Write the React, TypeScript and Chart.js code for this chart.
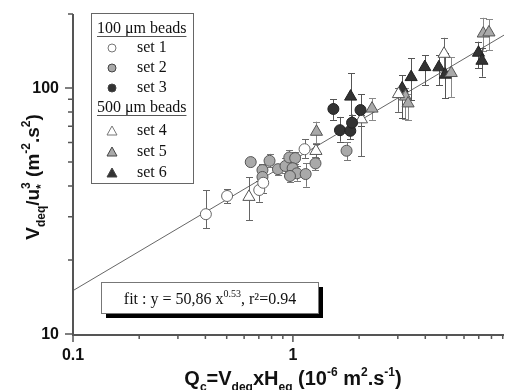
import React, { useEffect, useRef } from 'react';
import { Chart, registerables } from 'chart.js';
Chart.register(...registerables);

// ---- data ----
const set1X = [0.402, 0.502, 0.703, 0.733, 1.13];
const set1Y = [30.7, 36.4, 38.5, 41.2, 56.4];
const set1Lo = [26.9, 34.0, 34.5, 37.5, 52];
const set1Hi = [38.5, 38.7, 42, 44, 62];

const set2X = [0.643, 0.783, 0.727, 0.727, 0.855, 0.925, 0.963, 1.024, 0.997, 1.042, 0.97, 1.143, 1.267, 1.754];
const set2Y = [50.0, 50.6, 46.4, 43.5, 46.8, 48.2, 52.2, 51.9, 47.2, 45.0, 43.9, 44.7, 49.4, 55.6];
const set2Lo = [48.5, 47.6, 44, 41, 44.5, 45, 49, 49, 44, 42, 41.5, 39.7, 46.4, 51.0];
const set2Hi = [51.5, 54, 49, 46, 49, 52, 56, 55, 50, 48, 46, 49.5, 52.5, 60.1];

const set3X = [1.528, 1.637, 1.824, 1.858, 2.03];
const set3Y = [82.2, 67.4, 67.0, 72.3, 81.4];
const set3Lo = [74.2, 60.5, 62, 66, 70];
const set3Hi = [90.2, 76.3, 72, 78, 94.2];

const set4X = [0.631, 1.273, 2.05, 3.02, 4.87];
const set4Y = [36.1, 55.5, 74.6, 94.5, 137.8];
const set4Lo = [29.0, 52, 52.7, 80, 115];
const set4Hi = [43.4, 59, 78, 100, 160];

const set5X = [1.28, 2.29, 3.25, 3.34, 5.25, 7.34, 7.79];
const set5Y = [66.4, 82.5, 92.3, 86.6, 115.1, 166.6, 168.3];
const set5Lo = [59.6, 74.2, 74.8, 74, 92, 142, 142.6];
const set5Hi = [73, 91, 100, 95, 133.6, 193, 190];

const set6X = [1.83, 3.14, 3.45, 3.98, 4.61, 4.93, 6.98, 7.24];
const set6Y = [92.3, 99.7, 110.8, 121.7, 121.4, 113.3, 139.2, 129.1];
const set6Lo = [74.2, 75.5, 89.4, 102.8, 102.8, 91, 120.2, 111.2];
const set6Hi = [114.7, 112.9, 132.4, 136.2, 136.2, 138.7, 154.3, 145.5];

// fit: y = a x^b
const fitA = 50.86;
const fitB = 0.53;
const fitX = [0.1, 9.12];

const xMin = 0.1, xMax = 9.12, yMin = 10, yMax = 200;
const xMajorTicks = [0.1, 1];
const xMinorTicks = [0.2, 0.3, 0.4, 0.5, 0.6, 0.7, 0.8, 0.9, 2, 3, 4, 5, 6, 7, 8, 9];
const xTickLabels = ['0.1', '1'];
const yMajorTicks = [10, 100];
const yMinorTicks = [20, 30, 40, 50, 60, 70, 80, 90, 200];
const yTickLabels = ['10', '100'];

const legendHeaders = ['100 \u03bcm beads', '500 \u03bcm beads'];
const legendLabels = ['set 1', 'set 2', 'set 3', 'set 4', 'set 5', 'set 6'];

const WHITE = '#ffffff', GRAY = '#a9a9a9', DARK = '#333333';
const SANS = '"Liberation Sans", Arial, sans-serif';
const SERIF = '"Liberation Serif", "Times New Roman", serif';

type Seg = { t: string; k?: 'n' | 'sub' | 'sup' | 'stack'; t2?: string };

function richWidth(ctx: CanvasRenderingContext2D, segs: Seg[], size: number, fam: string, weight: string) {
  let w = 0;
  for (const s of segs) {
    if (!s.k || s.k === 'n') { ctx.font = `${weight} ${size}px ${fam}`; w += ctx.measureText(s.t).width; }
    else {
      ctx.font = `${weight} ${Math.round(size * 0.62)}px ${fam}`;
      const a = ctx.measureText(s.t).width;
      const b = s.t2 ? ctx.measureText(s.t2).width : 0;
      w += Math.max(a, b);
    }
  }
  return w;
}
function drawRich(ctx: CanvasRenderingContext2D, segs: Seg[], x: number, y: number, size: number, fam: string, weight: string) {
  let cx = x;
  ctx.textBaseline = 'alphabetic';
  ctx.textAlign = 'left';
  for (const s of segs) {
    if (!s.k || s.k === 'n') {
      ctx.font = `${weight} ${size}px ${fam}`;
      ctx.fillText(s.t, cx, y);
      cx += ctx.measureText(s.t).width;
    } else {
      ctx.font = `${weight} ${Math.round(size * 0.62)}px ${fam}`;
      if (s.k === 'sub') { ctx.fillText(s.t, cx, y + size * 0.3); cx += ctx.measureText(s.t).width; }
      else if (s.k === 'sup') { ctx.fillText(s.t, cx, y - size * 0.45); cx += ctx.measureText(s.t).width; }
      else {
        ctx.fillText(s.t, cx, y + size * 0.3);
        ctx.fillText(s.t2 || '', cx, y - size * 0.45);
        cx += Math.max(ctx.measureText(s.t).width, ctx.measureText(s.t2 || '').width);
      }
    }
  }
}

const errSets = [
  { xs: set1X, lo: set1Lo, hi: set1Hi, color: '#666' },
  { xs: set2X, lo: set2Lo, hi: set2Hi, color: '#777' },
  { xs: set3X, lo: set3Lo, hi: set3Hi, color: '#555' },
  { xs: set4X, lo: set4Lo, hi: set4Hi, color: '#666' },
  { xs: set5X, lo: set5Lo, hi: set5Hi, color: '#888' },
  { xs: set6X, lo: set6Lo, hi: set6Hi, color: '#555' },
];

const decor = {
  id: 'decor',
  beforeDatasetsDraw(chart: any) {
    const ctx: CanvasRenderingContext2D = chart.ctx;
    const xs = chart.scales.x, ys = chart.scales.y;
    ctx.save();
    ctx.lineWidth = 1;
    for (const e of errSets) {
      ctx.strokeStyle = e.color;
      e.xs.forEach((xv, i) => {
        const px = Math.round(xs.getPixelForValue(xv)) + 0.5;
        const pl = ys.getPixelForValue(e.lo[i]);
        const ph = ys.getPixelForValue(e.hi[i]);
        ctx.beginPath();
        ctx.moveTo(px, pl); ctx.lineTo(px, ph);
        ctx.moveTo(px - 3.5, Math.round(pl) + 0.5); ctx.lineTo(px + 3.5, Math.round(pl) + 0.5);
        ctx.moveTo(px - 3.5, Math.round(ph) + 0.5); ctx.lineTo(px + 3.5, Math.round(ph) + 0.5);
        ctx.stroke();
      });
    }
    ctx.restore();
  },
  afterDraw(chart: any) {
    const ctx: CanvasRenderingContext2D = chart.ctx;
    const xs = chart.scales.x, ys = chart.scales.y;
    const a = chart.chartArea;
    ctx.save();
    // axes
    ctx.strokeStyle = '#555';
    ctx.lineWidth = 2;
    ctx.beginPath();
    ctx.moveTo(a.left, a.top); ctx.lineTo(a.left, a.bottom + 1); ctx.lineTo(a.right, a.bottom + 1);
    ctx.stroke();
    ctx.lineWidth = 1.5;
    ctx.beginPath();
    for (const v of xMajorTicks) { const p = xs.getPixelForValue(v); ctx.moveTo(p, a.bottom); ctx.lineTo(p, a.bottom + 8); }
    for (const v of xMinorTicks) { const p = xs.getPixelForValue(v); ctx.moveTo(p, a.bottom); ctx.lineTo(p, a.bottom + 5); }
    for (const v of yMajorTicks) { const p = ys.getPixelForValue(v); ctx.moveTo(a.left, p); ctx.lineTo(a.left - 8, p); }
    for (const v of yMinorTicks) { const p = ys.getPixelForValue(v); ctx.moveTo(a.left, p); ctx.lineTo(a.left - 5, p); }
    ctx.stroke();
    // tick labels
    ctx.fillStyle = '#111';
    ctx.font = `bold 16px ${SANS}`;
    ctx.textAlign = 'center'; ctx.textBaseline = 'top';
    xMajorTicks.forEach((v, i) => ctx.fillText(xTickLabels[i], xs.getPixelForValue(v), a.bottom + 14));
    ctx.textAlign = 'right'; ctx.textBaseline = 'middle';
    yMajorTicks.forEach((v, i) => ctx.fillText(yTickLabels[i], a.left - 14, ys.getPixelForValue(v) + 1));
    // x title
    const xt: Seg[] = [
      { t: 'Q' }, { t: 'c', k: 'sub' }, { t: '=V' }, { t: 'deq', k: 'sub' }, { t: 'xH' }, { t: 'eq', k: 'sub' },
      { t: ' (10' }, { t: '-6', k: 'sup' }, { t: ' m' }, { t: '2', k: 'sup' }, { t: '.s' }, { t: '-1', k: 'sup' }, { t: ')' },
    ];
    const xw = richWidth(ctx, xt, 20, SANS, 'bold');
    drawRich(ctx, xt, 293 - xw / 2, 385, 20, SANS, 'bold');
    // y title
    const yt: Seg[] = [
      { t: 'V' }, { t: 'deq', k: 'sub' }, { t: '/u' }, { t: '*', k: 'stack', t2: '3' },
      { t: ' (m' }, { t: '-2', k: 'sup' }, { t: '.s' }, { t: '2', k: 'sup' }, { t: ')' },
    ];
    const yw = richWidth(ctx, yt, 19, SANS, 'bold');
    ctx.save();
    ctx.translate(39, 177);
    ctx.rotate(-Math.PI / 2);
    drawRich(ctx, yt, -yw / 2, 0, 19, SANS, 'bold');
    ctx.restore();

    // legend
    ctx.fillStyle = '#fff';
    ctx.fillRect(91, 13, 102, 170);
    ctx.strokeStyle = '#666'; ctx.lineWidth = 1;
    ctx.strokeRect(91.5, 13.5, 102, 170);
    ctx.fillStyle = '#111';
    ctx.font = `16px ${SERIF}`;
    ctx.textAlign = 'left'; ctx.textBaseline = 'alphabetic';
    const hdrY = [33, 112];
    legendHeaders.forEach((h, i) => {
      ctx.fillText(h, 97, hdrY[i]);
      const w = ctx.measureText(h).width;
      ctx.strokeStyle = '#555'; ctx.lineWidth = 1.2;
      ctx.beginPath(); ctx.moveTo(97, hdrY[i] + 3.5); ctx.lineTo(97 + w, hdrY[i] + 3.5); ctx.stroke();
    });
    const rowY = [48, 68, 88, 131, 152, 173];
    const fills = [WHITE, GRAY, DARK, WHITE, GRAY, DARK];
    legendLabels.forEach((l, i) => {
      const cy = rowY[i];
      ctx.fillStyle = fills[i];
      ctx.strokeStyle = i === 0 || i === 3 ? '#777' : '#444';
      ctx.lineWidth = 1;
      ctx.beginPath();
      if (i < 3) { ctx.arc(112, cy, 4, 0, Math.PI * 2); }
      else { ctx.moveTo(112, cy - 5); ctx.lineTo(117, cy + 4); ctx.lineTo(107, cy + 4); ctx.closePath(); }
      ctx.fill(); ctx.stroke();
      ctx.fillStyle = '#111';
      ctx.textBaseline = 'middle';
      ctx.fillText(l, 137, cy);
    });

    // fit box
    ctx.fillStyle = '#000';
    ctx.fillRect(106, 287, 217, 31);
    ctx.fillStyle = '#fff';
    ctx.fillRect(101, 282, 217, 31);
    ctx.strokeStyle = '#777'; ctx.lineWidth = 1;
    ctx.strokeRect(101.5, 282.5, 217, 31);
    ctx.fillStyle = '#111';
    const ft: Seg[] = [{ t: 'fit : y = 50,86 x' }, { t: '0.53', k: 'sup' }, { t: ', r\u00b2=0.94' }];
    const fw = richWidth(ctx, ft, 16, SERIF, 'normal');
    drawRich(ctx, ft, 210 - fw / 2, 304, 16, SERIF, 'normal');
    ctx.restore();
  },
};

const App = () => {
  const ref = useRef<HTMLCanvasElement>(null);
  useEffect(() => {
    const canvas = ref.current!;
    const pts = (xs: number[], ys: number[]) => xs.map((x, i) => ({ x, y: ys[i] }));
    const mk = (label: string, xs: number[], ys: number[], style: string, fill: string, r: number, border: string) => ({
      type: 'scatter' as const,
      label,
      data: pts(xs, ys),
      pointStyle: style,
      pointRadius: r,
      pointHoverRadius: r,
      backgroundColor: fill,
      borderColor: border,
      borderWidth: 1,
      order: 1,
    });
    const fitY = fitX.map((x) => fitA * Math.pow(x, fitB));
    const chart = new Chart(canvas, {
      type: 'scatter',
      data: {
        datasets: [
          {
            type: 'line' as const,
            label: 'fit',
            data: pts(fitX, fitY),
            borderColor: '#555',
            borderWidth: 0.9,
            pointRadius: 0,
            fill: false,
            order: 10,
          } as any,
          mk('set 1', set1X, set1Y, 'circle', WHITE, 5.5, '#666'),
          mk('set 2', set2X, set2Y, 'circle', GRAY, 5.5, '#555'),
          mk('set 3', set3X, set3Y, 'circle', DARK, 5.5, '#222'),
          mk('set 4', set4X, set4Y, 'triangle', WHITE, 7, '#555'),
          mk('set 5', set5X, set5Y, 'triangle', GRAY, 7, '#555'),
          mk('set 6', set6X, set6Y, 'triangle', DARK, 7, '#222'),
        ],
      },
      options: {
        animation: false,
        responsive: false,
        devicePixelRatio: 1,
        events: [],
        layout: { padding: { left: 73, top: 14, right: 0, bottom: 56 } },
        plugins: { legend: { display: false }, tooltip: { enabled: false } },
        scales: {
          x: { type: 'logarithmic', min: xMin, max: xMax, display: false },
          y: { type: 'logarithmic', min: yMin, max: yMax, display: false },
        },
      },
      plugins: [decor],
    });
    return () => chart.destroy();
  }, []);
  return (
    <div style={{ position: 'fixed', left: 0, top: 0, width: 512, height: 390, background: '#fff' }}>
      <canvas ref={ref} width={512} height={390} style={{ display: 'block' }} />
    </div>
  );
};

export default App;
